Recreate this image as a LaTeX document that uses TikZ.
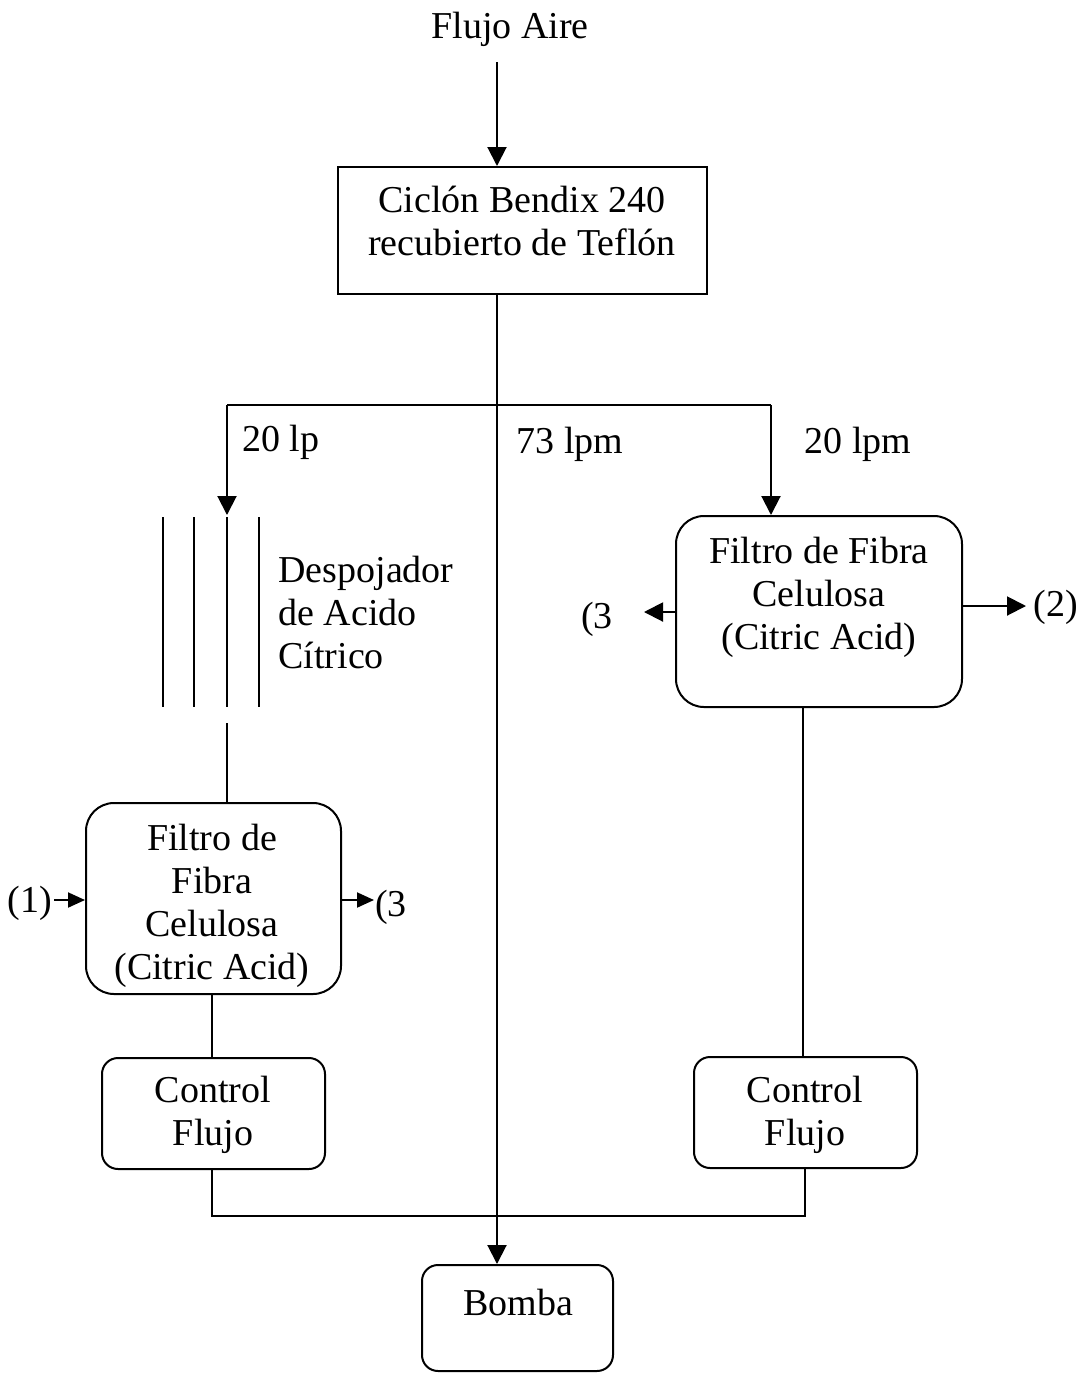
\documentclass[tikz,border=0pt]{standalone}
\usepackage{fontspec}
\setmainfont{Liberation Serif}
\usetikzlibrary{arrows.meta}
\begin{document}
\begin{tikzpicture}[x=0.5pt,y=-0.5pt,
  every node/.style={font=\fontsize{19}{21.5}\selectfont, inner sep=0pt},
  line/.style={line width=1pt},
  arr/.style={line width=1pt,-{Triangle[length=9.5pt,width=9.5pt]}},
  sarr/.style={line width=1pt,-{Triangle[length=8.5pt,width=7.5pt]}},
  sqbox/.style={draw,line width=1pt},
  rbox/.style={draw,line width=1pt,rounded corners=14pt},
  cbox/.style={draw,line width=1pt,rounded corners=8pt},
  txt/.style={align=center}]
\useasboundingbox (0,0) rectangle (1088,1373);
% boxes
\node[sqbox,minimum width=184.5pt,minimum height=63.5pt] (cyc) at (522.5,230.5) {};
\node[txt] (cyct) at (522,221) {Ciclón Bendix 240\\recubierto de Teflón};
\node[rbox,minimum width=143pt,minimum height=95.5pt] (rf) at (819,611.5) {};
\node[txt] (rft) at (819,597) {Filtro de Fibra\\Celulosa\\(Citric Acid)};
\node[rbox,minimum width=127.5pt,minimum height=95.5pt] (lf) at (213.5,898.5) {};
\node[txt] (lft) at (212,906) {Filtro de\\Fibra\\Celulosa\\(Citric Acid)};
\node[cbox,minimum width=111.5pt,minimum height=55.5pt] (lc) at (213.5,1113.5) {};
\node[txt] (lct) at (213,1115) {Control\\Flujo};
\node[cbox,minimum width=111.5pt,minimum height=55.5pt] (rc) at (805.5,1112.5) {};
\node[txt] (rct) at (805,1115) {Control\\Flujo};
\node[cbox,minimum width=95.5pt,minimum height=53pt] (bomba) at (517.5,1318) {};
\node[txt] (bombat) at (518,1302) {Bomba};
% texts
\node (aire) at (510,29) {Flujo Aire};
\node (l20a) at (281,442) {20 lp};
\node (l73) at (570,444) {73 lpm};
\node (l20b) at (858,444) {20 lpm};
\node[anchor=west,align=left] (desp) at (278,612) {Despojador\\de Acido\\Cítrico};
\node (in1) at (30,903) {(1)};
\node (out3l) at (391,907) {(3};
\node (out3r) at (597,619) {(3};
\node (out2) at (1056,607) {(2)};
% coordinates
\coordinate (trunk) at (497,405);
\coordinate (lsplit) at (227,405);
\coordinate (rsplit) at (771,405);
\coordinate (stripT) at (227,515);
\coordinate (stripB) at (227,723);
% stripper plates
\foreach \xx in {163,194,227,259} \draw[line] (\xx,517) -- (\xx,707);
% connectors
\draw[arr] (497,62) -- (trunk |- cyc.north);
\draw[arr] (trunk |- cyc.south) -- (trunk |- bomba.north);
\draw[line] (lsplit) -- (rsplit);
\draw[arr] (lsplit) -- (stripT);
\draw[arr] (rsplit) -- (rsplit |- rf.north);
\draw[line] (stripB) -- (stripB |- lf.north);
\draw[line] (212,994) -- (212,1058);
\draw[line] (803,707) -- (803,1057);
\draw[line] (212,1169) -- (212,1216) -- (805,1216) -- (805,1168);
\draw[sarr] (54,900) -- (lf.west |- 0,900);
\draw[sarr] (lf.east |- 0,900) -- (374,900);
\draw[arr] (rf.west |- 0,612) -- (644,612);
\draw[arr] (rf.east |- 0,606) -- (1026,606);
\end{tikzpicture}
\end{document}
